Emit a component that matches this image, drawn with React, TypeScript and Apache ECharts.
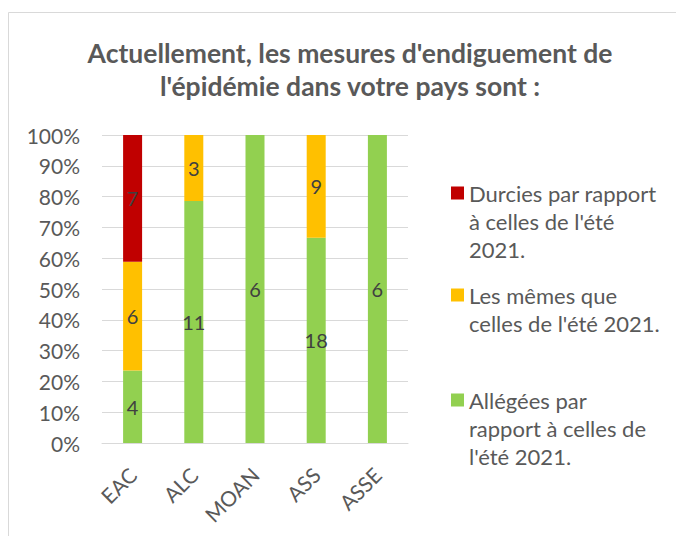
import React, { useEffect, useRef } from "react";
import * as echarts from "echarts";

const categories = ["EAC", "ALC", "MOAN", "ASS", "ASSE"];
const allegees = [4, 11, 6, 18, 6];
const memes = [6, 3, 0, 9, 0];
const durcies = [7, 0, 0, 0, 0];
const seriesNames = [
  "Durcies par rapport\nà celles de l'été\n2021.",
  "Les mêmes que\ncelles de l'été 2021.",
  "Allégées par\nrapport à celles de\nl'été 2021.",
];
const colors = ["#C00000", "#FFC000", "#92D050"];
const titleText = "Actuellement, les mesures d'endiguement de\nl'épidémie dans votre pays sont :";

const FONT = "Lato";

export default function App() {
  const ref = useRef<HTMLDivElement>(null);
  useEffect(() => {
    if (!ref.current) return;
    const chart = echarts.init(ref.current, null, { renderer: "svg" });
    const totals = categories.map((_, i) => allegees[i] + memes[i] + durcies[i]);
    const pct = (arr: number[]) =>
      arr.map((v, i) => ({ value: (v / totals[i]) * 100, count: v }));
    const mkSeries = (name: string, arr: number[], color: string) => ({
      name,
      type: "bar",
      stack: "total",
      barWidth: 19,
      data: pct(arr),
      itemStyle: { color },
      label: {
        show: true,
        position: "inside",
        fontFamily: FONT,
        fontSize: 20,
        color: "#404040",
        formatter: (p: any) => (p.data.count ? String(p.data.count) : ""),
      },
    });
    // icon: square at the top of a taller invisible box, so that it sits
    // beside the first line of a multi-line legend name
    const mkLegend = (name: string, top: number, lines: number) => {
      const h = lines === 3 ? 69 : 41;
      return {
        orient: "vertical",
        left: 451,
        top,
        padding: 0,
        itemWidth: 13,
        itemHeight: h,
        icon: `path://M0,0H13V13H0Z M13,${h}`,
        data: [name],
        textStyle: {
          fontFamily: FONT,
          fontSize: 22,
          color: "#595959",
          lineHeight: 28,
        },
      };
    };
    chart.setOption({
      animation: false,
      backgroundColor: "#ffffff",
      title: {
        text: titleText,
        left: 345,
        textAlign: "center",
        top: 31,
        textStyle: {
          fontFamily: FONT,
          fontWeight: "bold",
          fontSize: 26.5,
          color: "#595959",
          lineHeight: 33,
        },
      },
      graphic: [
        {
          type: "rect",
          shape: { x: 8.5, y: 12.5, width: 720, height: 600 },
          style: { fill: "none", stroke: "#d9d9d9", lineWidth: 1 },
          silent: true,
        },
      ],
      legend: [
        mkLegend(seriesNames[0], 179, 3),
        mkLegend(seriesNames[1], 281, 2),
        mkLegend(seriesNames[2], 386, 3),
      ],
      grid: { left: 102, right: 268, top: 135, bottom: 93 },
      xAxis: {
        type: "category",
        data: categories,
        axisLine: { lineStyle: { color: "#d9d9d9" } },
        axisTick: { show: false },
        axisLabel: {
          rotate: 45,
          margin: 28,
          fontFamily: FONT,
          fontSize: 21,
          color: "#595959",
        },
      },
      yAxis: {
        type: "value",
        min: 0,
        max: 100,
        interval: 10,
        axisLine: { show: false },
        axisTick: { show: false },
        splitLine: { lineStyle: { color: "#d9d9d9" } },
        axisLabel: {
          formatter: "{value}%",
          margin: 22,
          fontFamily: FONT,
          fontSize: 21,
          color: "#595959",
        },
      },
      series: [
        mkSeries(seriesNames[2], allegees, colors[2]),
        mkSeries(seriesNames[1], memes, colors[1]),
        mkSeries(seriesNames[0], durcies, colors[0]),
      ],
    });
    return () => chart.dispose();
  }, []);
  return (
    <div
      ref={ref}
      style={{ position: "fixed", left: 0, top: 0, width: 676, height: 536 }}
    />
  );
}
